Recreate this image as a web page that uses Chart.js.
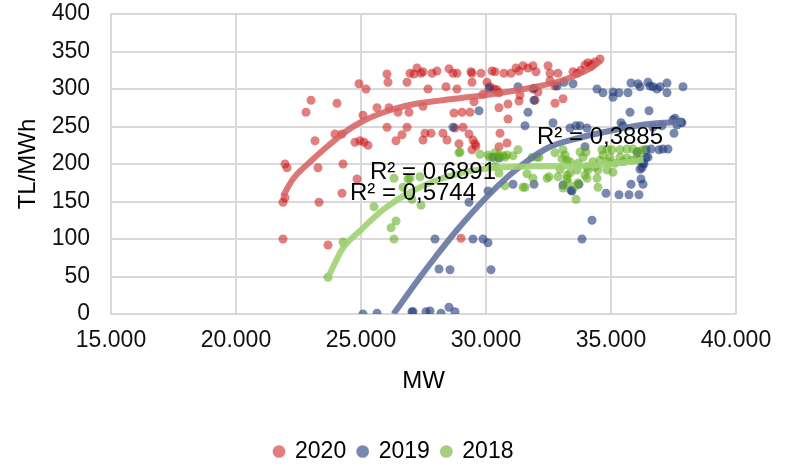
<!DOCTYPE html>
<html>
<head>
<meta charset="utf-8">
<script src="https://cdn.jsdelivr.net/npm/chart.js@4"></script>
<style>
  html, body { margin: 0; padding: 0; background: #fff; }
  #wrap { width: 798px; height: 473px; }
</style>
</head>
<body>
<div id="wrap"><canvas id="chart" width="798" height="473"></canvas></div>
<script>
// 2020
const mw2020 = [21880,21880,21960,23320,23680,24240,24840,21960,22040,23280,24280,23160,23960,24240,24760,24960,25120,25280,22800,23000,24040,24920,25200,25080,25640,26040,26080,26120,26480,26920,26040,26840,26640,26400,26840,26960,27120,27240,27400,27480,27840,28040,28520,28680,28840,29400,29440,29800,30240,30360,30720,31000,31200,31320,31480,31680,31880,32000,32480,32560,32880,27680,28400,28840,29440,30040,30160,30320,29880,30520,31360,31880,32560,32760,33080,32760,31960,30880,29520,27480,28720,29040,29360,30520,30880,29080,30560,27560,27800,28440,28920,29480,29560,29440,29600,29320,30520,30840,27480,28760,28280,29000,33480,33640,33960,34080,34240,34360,34560,33800,34200,32080,31320,30440];
const price2020 = [149,100,155,149,92,161,180,200,195,195,200,231,240,240,229,231,229,225,269,285,281,307,300,265,275,320,309,275,269,269,249,249,239,231,309,321,320,328,321,323,321,324,327,321,321,323,321,321,324,323,321,321,328,324,331,328,331,323,331,321,321,300,303,300,309,309,303,300,293,295,292,300,311,304,287,281,285,280,283,277,268,269,269,275,260,249,241,241,241,232,227,232,227,219,224,240,223,228,232,248,241,101,323,321,332,335,333,336,340,325,330,296,284,299];

// 2019
const mw2019 = [25080,25640,27040,27080,27600,27760,28200,28520,28760,27960,28120,28560,29480,29880,30080,30200,29320,30080,31080,31920,33080,33400,33720,33440,34800,35320,35720,36120,35800,36280,36200,36160,36320,36400,34240,33840,30280,30520,28680,29720,30120,31280,31920,32840,33120,31680,31920,31560,32680,33480,33760,33360,33960,34440,34680,35080,35080,35320,35680,35800,36080,36160,36480,36560,36840,36960,37240,37240,37880,35760,36520,35400,35480,37560,37640,37840,37520,37480,37800,36920,37080,37280,36400,36480,36280,36240,36680,37040,36680,36600,36040,36120,33600,34040];
const price2019 = [0,1,3,3,3,4,1,9,3,100,60,59,100,100,95,59,149,164,173,173,172,165,173,164,161,159,159,159,173,173,180,193,200,209,125,100,209,208,249,271,301,303,301,304,309,269,285,251,255,307,251,248,223,300,295,296,289,295,295,308,307,303,309,304,300,303,308,295,303,269,271,255,251,261,252,255,241,259,256,219,220,220,219,209,201,195,249,251,303,220,216,205,251,248];

// 2018
const mw2018 = [23680,24280,25520,26320,26400,26200,26320,26680,27040,27400,26960,27360,26880,28920,30080,30520,30840,31080,31280,31560,31880,28960,29760,30360,30680,32040,32760,33080,33240,32520,32880,33240,30160,30480,30760,31840,32120,33160,33760,34000,33880,34640,34840,35040,35360,35640,35880,36120,36280,34680,34960,35360,35640,35840,36040,34880,35160,35480,34560,34280,34360,34040,33680,33360,33040,32960,33360,33640,34080,34480,34840,35080,33960,34440,34040,34480,33240,33280,33080,33600,33680,33600,32440,31640,31480,30760,30360,30520];
const price2018 = [49,96,143,181,124,115,100,169,153,145,181,183,180,215,212,212,212,211,219,169,181,216,213,215,211,209,215,219,205,183,183,185,209,209,209,209,209,212,216,216,209,219,220,219,219,220,220,217,219,212,209,209,208,205,209,203,201,203,205,203,196,196,201,203,207,193,188,192,192,192,192,189,185,181,181,169,180,175,168,171,175,153,181,187,169,171,197,188];

// trendlines
const trendMw2020 = [21880,22280,23000,23640,24300,24950,26000,27000,28000,29000,30000,31000,32000,33000,33700,34200,34600];
const trendPrice2020 = [157,180,204,223,241,255,270,279,284,288,292,297,303,311,320,328,338];
const trendMw2019 = [26300,27360,28000,28840,30000,31080,32440,33760,35080,36440,37880];
const trendPrice2019 = [0,49,77,112,155,189,221,235,245,253,256];
const trendMw2018 = [23680,24280,25000,25500,26000,27000,28000,29000,30000,31000,32000,33000,34000,35000,36000,36300];
const trendPrice2018 = [49,88,112,128,142,163,178,188,194,196,197,197,198,200,204,206];

const r2Labels = ["R² = 0,6891", "R² = 0,5744", "R² = 0,3885"];

const xTicks = [15000, 40000, 5000];
const yTicks = [0, 400, 50];

function pts(xs, ys) {
    return xs.map((x, i) => ({x: x, y: ys[i]}));
}

function trend(xs, ys, color, order) {
    return {
        label: "",
        data: pts(xs, ys),
        showLine: true,
        borderColor: color,
        borderWidth: 6,
        pointRadius: 0,
        cubicInterpolationMode: "monotone",
        order: order
    };
}

// where the R² texts sit (data coords)
const r2Pos = [[27880, 189], [27080, 161], [34560, 235]];

const r2Plugin = {
    id: "r2",
    afterDatasetsDraw(chart) {
        const ctx = chart.ctx;
        const xs = chart.scales.x, ys = chart.scales.y;
        ctx.save();
        ctx.font = "24px 'Liberation Sans', Arial, sans-serif";
        ctx.fillStyle = "#000";
        ctx.textAlign = "center";
        ctx.textBaseline = "middle";
        r2Labels.forEach((t, i) => {
            ctx.fillText(t, xs.getPixelForValue(r2Pos[i][0]), ys.getPixelForValue(r2Pos[i][1]));
        });
        ctx.restore();
    }
};

const font = "'Liberation Sans', Arial, sans-serif";

new Chart(document.getElementById("chart"), {
    type: "scatter",
    data: {
        datasets: [
            {
                label: "2020",
                data: pts(mw2020, price2020),
                backgroundColor: "rgba(200,20,20,0.55)",
                borderWidth: 0,
                pointRadius: 4.5,
                order: 6
            },
            {
                label: "2019",
                data: pts(mw2019, price2019),
                backgroundColor: "rgba(31,56,120,0.6)",
                borderWidth: 0,
                pointRadius: 4.5,
                order: 5
            },
            {
                label: "2018",
                data: pts(mw2018, price2018),
                backgroundColor: "rgba(90,170,20,0.55)",
                borderWidth: 0,
                pointRadius: 4.5,
                order: 4
            },
            trend(trendMw2020, trendPrice2020, "rgba(215,95,95,0.85)", 2),
            trend(trendMw2019, trendPrice2019, "rgba(100,118,160,0.9)", 1),
            trend(trendMw2018, trendPrice2018, "rgba(160,210,115,0.9)", 0)
        ]
    },
    options: {
        responsive: false,
        animation: false,
        layout: {
            padding: {top: 0, right: 10, left: 0, bottom: 0}
        },
        plugins: {
            tooltip: {enabled: false},
            legend: {
                position: "bottom",
                labels: {
                    filter: (item) => item.text !== "",
                    sort: (a, b) => a.datasetIndex - b.datasetIndex,
                    usePointStyle: true,
                    pointStyle: "circle",
                    boxWidth: 9,
                    boxHeight: 9,
                    padding: 12,
                    color: "#000",
                    font: {family: font, size: 23}
                }
            }
        },
        scales: {
            x: {
                type: "linear",
                min: xTicks[0],
                max: xTicks[1],
                ticks: {
                    stepSize: xTicks[2],
                    padding: 13,
                    color: "#111",
                    font: {family: font, size: 23},
                    callback: (v) => v.toLocaleString("de-DE")
                },
                grid: {color: "#d9d9d9", lineWidth: 2, drawTicks: false},
                border: {color: "#d9d9d9", width: 2},
                title: {
                    display: true,
                    text: "MW",
                    color: "#000",
                    font: {family: font, size: 24},
                    padding: {top: 6, bottom: 32}
                },
                afterFit: (scale) => {
                    scale.height = 473 - 314 - scale.chart.legend.height;
                    scale.paddingRight = 62;
                }
            },
            y: {
                min: yTicks[0],
                max: yTicks[1],
                ticks: {
                    stepSize: yTicks[2],
                    padding: 21,
                    color: "#111",
                    font: {family: font, size: 23}
                },
                grid: {color: "#d9d9d9", lineWidth: 2, drawTicks: false},
                border: {color: "#d9d9d9", width: 2},
                title: {
                    display: true,
                    text: "TL/MWh",
                    color: "#000",
                    font: {family: font, size: 24},
                    padding: {top: 14, bottom: 0}
                },
                afterFit: (scale) => {
                    scale.width = 111;
                    scale.paddingTop = 14;
                    scale.paddingBottom = 0;
                }
            }
        }
    },
    plugins: [r2Plugin]
});
</script>
</body>
</html>
